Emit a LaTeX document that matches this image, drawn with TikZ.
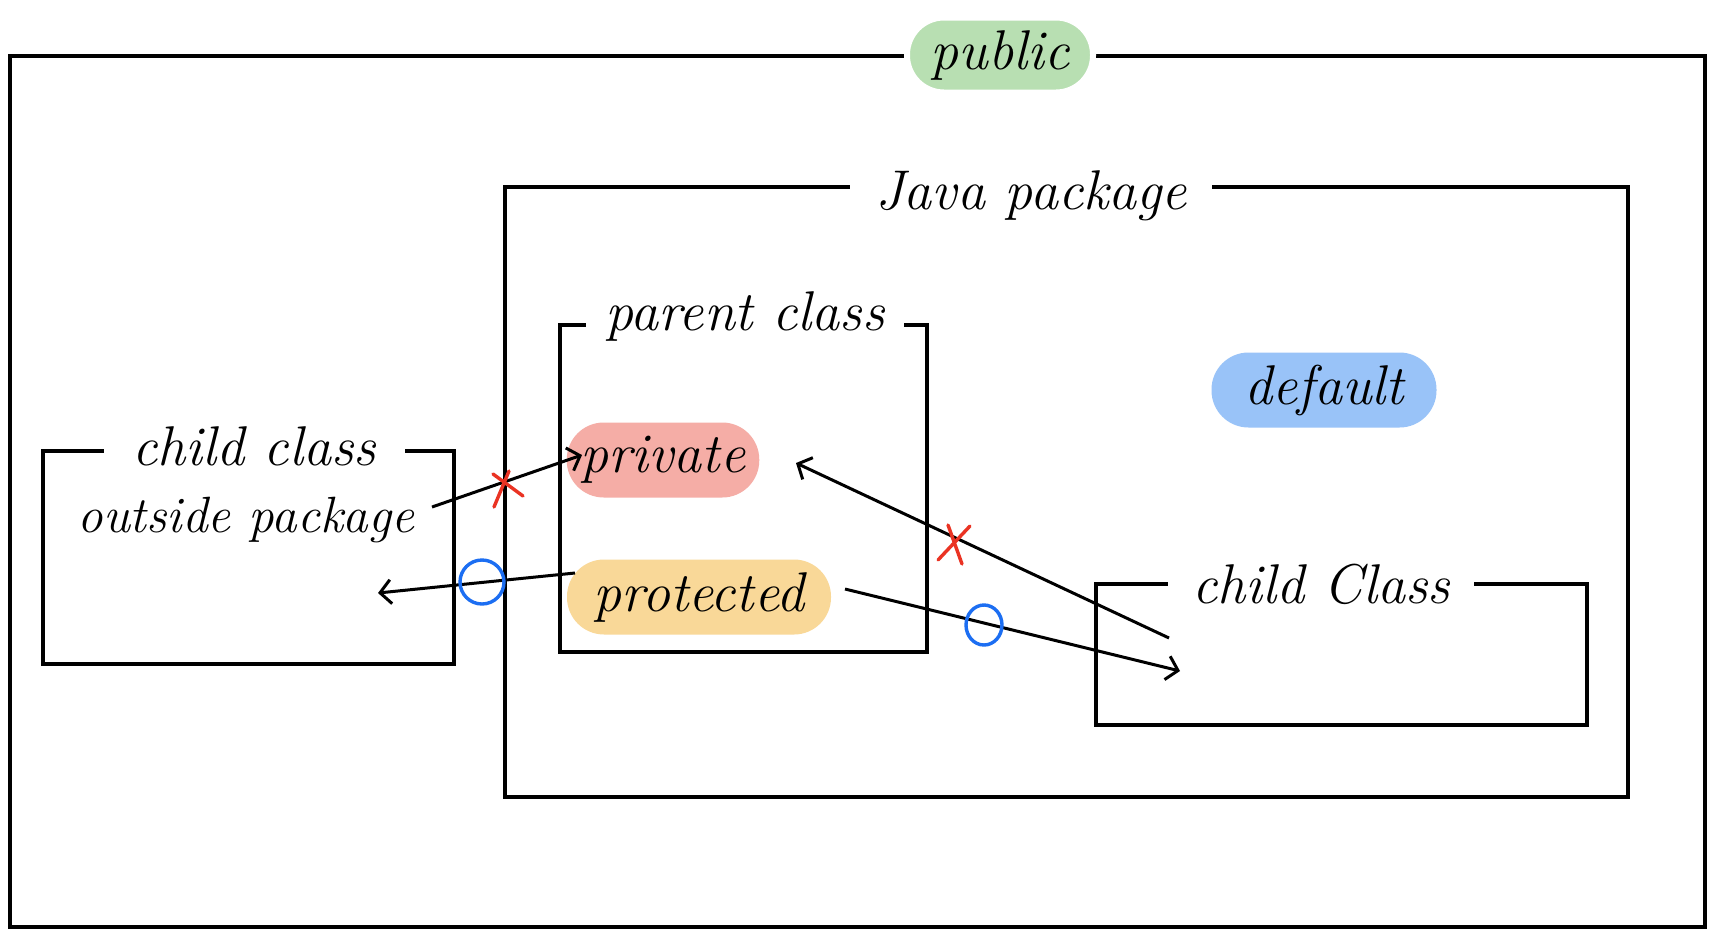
\documentclass[tikz,border=0pt]{standalone}
\usepackage{fontspec}
\usetikzlibrary{arrows.meta}
\definecolor{pubgreen}{HTML}{B8DFB2}
\definecolor{privred}{HTML}{F5ADA6}
\definecolor{protorange}{HTML}{F9D898}
\definecolor{defblue}{HTML}{99C3F8}
\definecolor{xred}{HTML}{EA3323}
\definecolor{oblue}{HTML}{1C6EF2}
\tikzset{
  hand/.style={font=\fontsize{56}{60}\selectfont\itshape},
  box/.style={draw=black, line width=3.2pt, rectangle, inner sep=0pt},
  title/.style={hand, fill=white, inner xsep=12pt, inner ysep=0pt},
  pill/.style={hand, rounded corners=37pt, minimum height=75pt, inner xsep=14pt},
  gappill/.style={pill, draw=white, line width=6pt},
  conn/.style={line width=3pt, -{Straight Barb[length=11pt,width=24pt,line width=3pt]}},
  xmark/.style={xred, line width=3.4pt, line cap=round},
  omark/.style={oblue, line width=3.4pt},
}
\begin{document}
\begin{tikzpicture}[x=1pt, y=-1pt]
\useasboundingbox (0,0) rectangle (1718,938);
\fill[white] (0,0) rectangle (1718,938);
% boxes
\node[box, minimum width=1695pt, minimum height=871pt] (outer) at (857.5,491.5) {};
\node[box, minimum width=1123pt, minimum height=610pt] (pkg) at (1066.5,492) {};
\node[box, minimum width=367pt, minimum height=327pt] (parent) at (743.5,488.5) {};
\node[box, minimum width=411pt, minimum height=213pt] (outside) at (248.5,557.5) {};
\node[box, minimum width=491pt, minimum height=141pt] (child) at (1341.5,654.5) {};
% titles
\node[gappill, fill=pubgreen, minimum width=186pt] (public) at (1000,55) {public};
\node[title, minimum width=362pt] (pkgt) at (1031,196) {Java package};
\node[title, minimum width=318pt] (parentt) at (745,316) {parent class};
\node[title, minimum width=301pt] (outsidet) at (254,446) {child class};
\node[hand, font=\fontsize{51}{56}\selectfont\itshape] (outsidet2) at (246,520) {outside package};
\node[title, minimum width=306pt] (childt) at (1321,584) {child Class};
% pills
\node[pill, fill=defblue, minimum width=225pt] (default) at (1324,390) {default};
\node[pill, fill=privred, minimum width=190pt] (private) at (663,460) {private};
\node[pill, fill=protorange, minimum width=264pt] (protected) at (699,597) {protected};
% connector ends
\coordinate (a1s) at (432,507);
\coordinate (a1e) at (582,455);
\coordinate (a2s) at (575,573);
\coordinate (a2e) at (378,593);
\coordinate (a3s) at (1169,638);
\coordinate (a3e) at (796,463);
\coordinate (a4s) at (845,589);
\coordinate (a4e) at (1180,671);
% connectors
\draw[conn] (a1s) -- (a1e);
\draw[conn] (a2s) -- (a2e);
\draw[conn] (a3s) -- (a3e);
\draw[conn] (a4s) -- (a4e);
% marks
\draw[xmark] (493,474) -- (523,496) (509,471) -- (494,507);
\draw[xmark] (938,560) -- (970,526) (948,525) -- (962,564);
\draw[omark] (482,582) circle (22pt);
\draw[omark] (984,625) ellipse (18pt and 20pt);
\end{tikzpicture}
\end{document}
